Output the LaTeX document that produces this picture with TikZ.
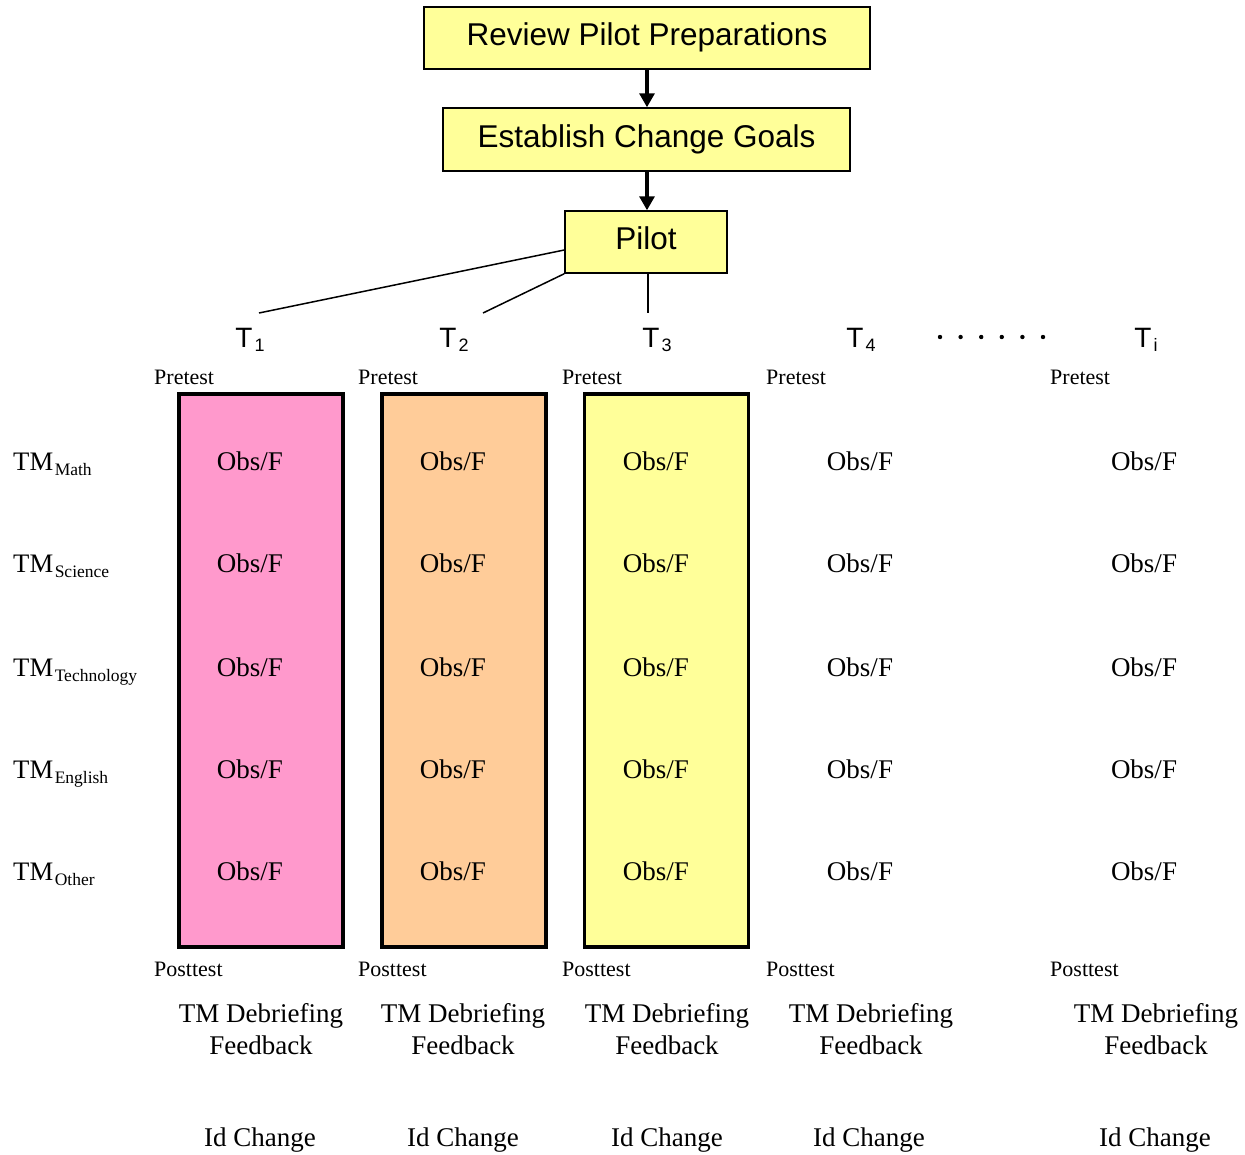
\documentclass[tikz,border=0pt]{standalone}
\usepackage{fontspec}
\setmainfont{Liberation Serif}
\newfontfamily\arialfont{Liberation Sans}
\usetikzlibrary{arrows.meta}

\definecolor{stageyellow}{HTML}{FFFF99}
\definecolor{colpink}{HTML}{FF99CC}
\definecolor{colpeach}{HTML}{FFCC99}
\definecolor{colyellow}{HTML}{FFFF99}

% subscripts for the time labels and the teacher-group labels
\newcommand\tlsub[1]{\kern2pt\raisebox{-4pt}{\fontsize{18}{20}\selectfont #1}}
\newcommand\tmsub[1]{\kern1.5pt\raisebox{-5pt}{\fontsize{17.5}{20}\selectfont #1}}

\begin{document}
\begin{tikzpicture}[x=1pt,y=-1pt,
  stage/.style={draw, line width=1.5pt, fill=stageyellow, inner sep=0pt,
    font=\arialfont\fontsize{31.5}{36}\selectfont, text height=23.6pt, text depth=7.9pt},
  flow/.style={line width=3.2pt, -{Triangle[length=14pt,width=15pt]}},
  branch/.style={line width=1.5pt},
  column/.style={draw, line width=3.5pt, inner sep=0pt, minimum width=164pt, minimum height=553pt},
  tlabel/.style={anchor=base, inner sep=0pt, font=\arialfont\fontsize{28}{32}\selectfont},
  small/.style={anchor=base west, inner sep=0pt, font=\fontsize{22}{26}\selectfont},
  obs/.style={anchor=base, inner sep=0pt, font=\fontsize{27}{32}\selectfont},
  group/.style={anchor=base west, inner sep=0pt, font=\fontsize{26.7}{30}\selectfont},
  debrief/.style={anchor=base, inner sep=0pt, align=center, font=\fontsize{27}{32}\selectfont},
]
\useasboundingbox (0,0) rectangle (1245,1154);

% process stages
\node[stage, minimum width=446pt, minimum height=62pt] (review) at (647,38) {Review Pilot Preparations};
\node[stage, minimum width=407pt, minimum height=63pt] (goals) at (646.5,139.5) {Establish Change Goals};
\node[stage, minimum width=162pt, minimum height=62pt] (pilot) at (646,242) {Pilot};

\draw[flow] (review.south) -- (review.south |- goals.north);
\draw[flow] (goals.south -| review.south) -- (review.south |- pilot.north);

% time points
\node[tlabel] (t1) at (250,347) {T\tlsub{1}};
\node[tlabel] (t2) at (454,347) {T\tlsub{2}};
\node[tlabel] (t3) at (657,347) {T\tlsub{3}};
\node[tlabel] (t4) at (861,347) {T\tlsub{4}};
\node[tlabel] (ti) at (1146,347) {T\tlsub{i}};
\foreach \k in {0,...,5} \fill (940+20.6*\k,337) circle (2.2pt);

\coordinate (b1) at (259,313);
\coordinate (b2) at (483,313);
\coordinate (b3) at (648,313);
\draw[branch] ([yshift=-8pt]pilot.west) -- (b1);
\draw[branch] (pilot.south west) -- (b2);
\draw[branch] (pilot.south -| b3) -- (b3);

% piloted columns
\node[column, fill=colpink]   (colA) at (261,670.5) {};
\node[column, fill=colpeach]  (colB) at (464,670.5) {};
\node[column, fill=colyellow] (colC) at (666.5,670.5) {};

% pre- and posttests
\foreach \x [count=\i] in {154,358,562,766,1050}{
  \node[small] (pre\i) at (\x,384) {Pretest};
  \node[small] (post\i) at (\x,976) {Posttest};
}

% teacher groups
\node[group] (gmath) at (13,470) {TM\tmsub{Math}};
\node[group] (gsci)  at (13,572) {TM\tmsub{Science}};
\node[group] (gtech) at (13,676) {TM\tmsub{Technology}};
\node[group] (geng)  at (13,778) {TM\tmsub{English}};
\node[group] (goth)  at (13,880) {TM\tmsub{Other}};

% observation / feedback cells
\foreach \x [count=\c] in {250,453,656,860,1144}{
  \foreach \y [count=\r] in {470,572,676,778,880}{
    \node[obs] (obs\c\r) at (\x,\y) {Obs/F};
  }
}

% debriefing and change identification
\foreach \x [count=\i] in {261,463,667,871,1156}{
  \node[debrief] (deb\i) at (\x,1054) {TM Debriefing\\Feedback};
}
\foreach \x [count=\i] in {260,463,667,869,1155}{
  \node[obs] (chg\i) at (\x,1146) {Id Change};
}
\end{tikzpicture}
\end{document}
